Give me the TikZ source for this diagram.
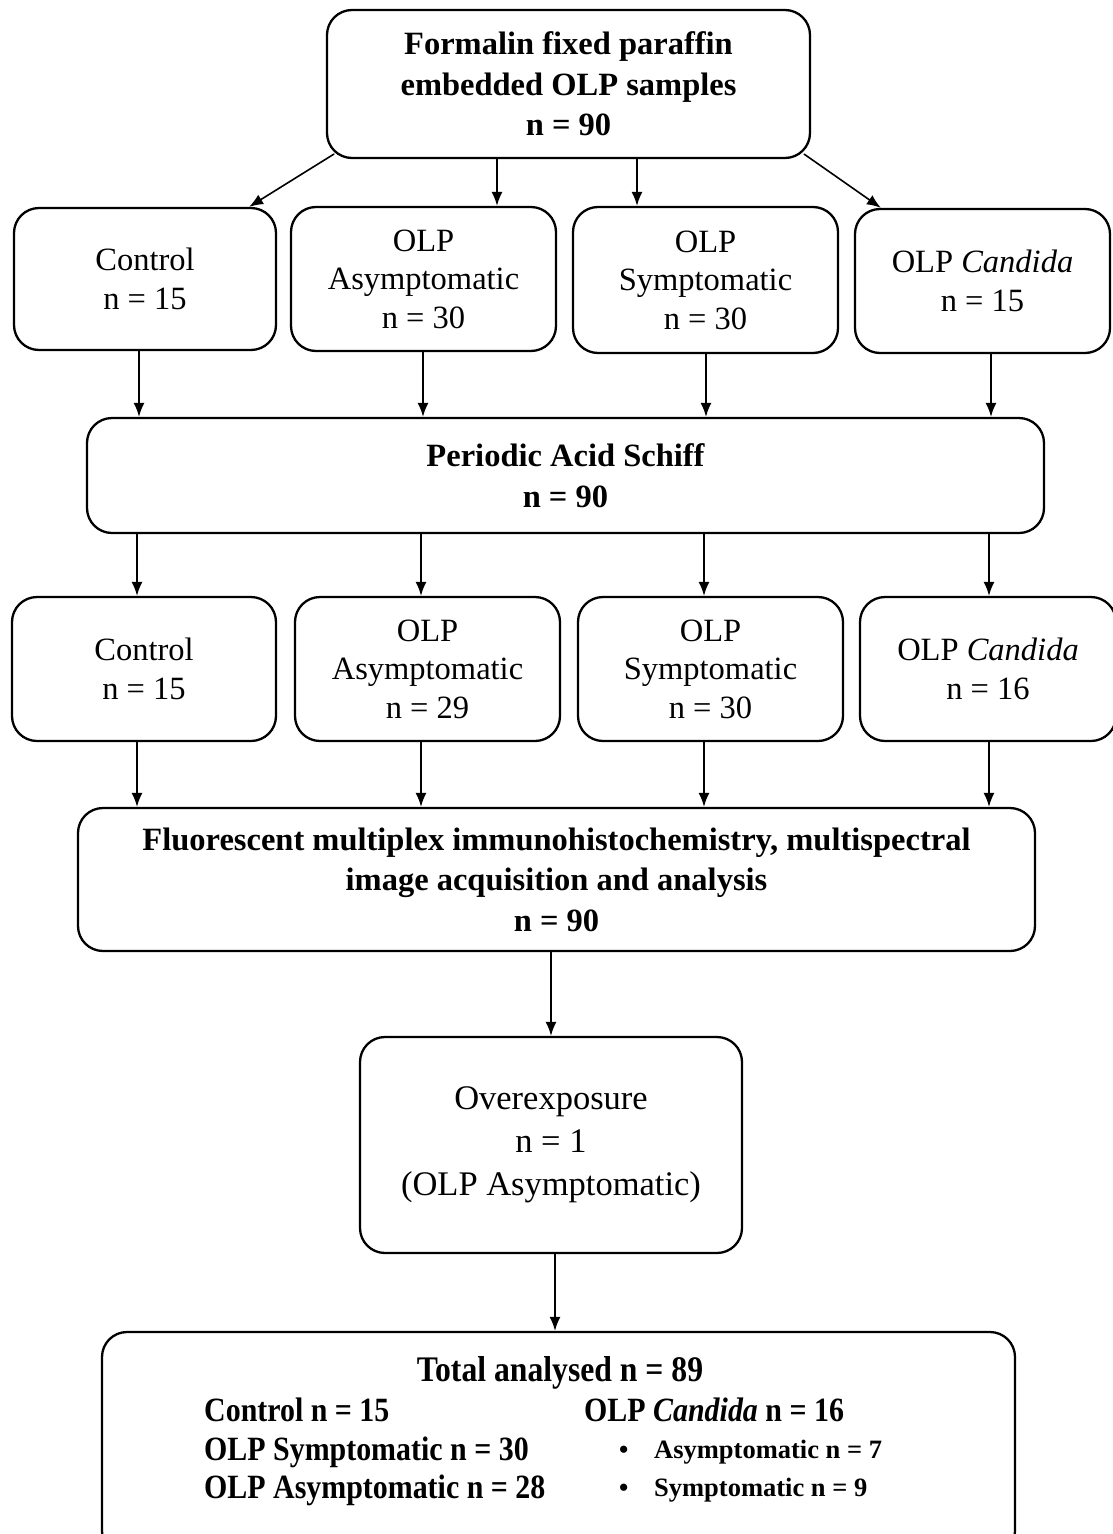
\documentclass[tikz,border=0pt]{standalone}
\usepackage{fontspec}
\setmainfont{Liberation Serif}
\newfontfamily\condfont[FakeStretch=0.88]{Liberation Serif}
\usetikzlibrary{arrows.meta,calc}

\begin{document}
\begin{tikzpicture}[x=1pt, y=-1pt, line join=round, line cap=round, >={Latex[length=14pt,width=11pt]},
	box/.style={draw, rounded corners=25pt, line width=2.3pt, align=center, inner sep=0pt,
		font=\fontsize{32.5}{38.5}\selectfont},
	boldtxt/.style={font=\fontsize{32.5}{40.5}\selectfont\bfseries},
	link/.style={->, line width=1.6pt},
	sumtxt/.style={anchor=base west, inner sep=0pt, font=\condfont\bfseries\fontsize{34}{39}\selectfont}]
	\clip (0,0) rectangle (1113,1534);
	% samples
	\node[box, boldtxt, minimum width=483pt, minimum height=148pt] (src) at (568.5,84) {Formalin fixed paraffin\\embedded OLP samples\\n = 90};
	% groups before staining
	\node[box, minimum width=262pt, minimum height=142pt] (ctrlA) at (145,279) {Control\\n = 15};
	\node[box, minimum width=265pt, minimum height=144pt] (asymA) at (423.5,279) {OLP\\Asymptomatic\\n = 30};
	\node[box, minimum width=265pt, minimum height=146pt] (sympA) at (705.5,280) {OLP\\Symptomatic\\n = 30};
	\node[box, minimum width=255pt, minimum height=144pt] (candA) at (982.5,281) {OLP \textit{Candida}\\n = 15};
	\node[box, boldtxt, minimum width=957pt, minimum height=115pt] (pas) at (565.5,475.5) {Periodic Acid Schiff\\n = 90};
	% groups after staining
	\begin{scope}[every node/.append style={font=\fontsize{32.5}{41}\selectfont}]
		\node[box, minimum width=264pt, minimum height=144pt] (ctrlB) at (144,669) {Control\\n = 15};
		\node[box, minimum width=265pt, minimum height=144pt] (asymB) at (427.5,669) {OLP\\Asymptomatic\\n = 29};
		\node[box, minimum width=265pt, minimum height=144pt] (sympB) at (710.5,669) {OLP\\Symptomatic\\n = 30};
		\node[box, minimum width=256pt, minimum height=144pt] (candB) at (988,669) {OLP \textit{Candida}\\n = 16};
	\end{scope}
	\node[box, boldtxt, minimum width=957pt, minimum height=143pt] (fmi) at (556.5,879.5) {Fluorescent multiplex immunohistochemistry, multispectral\\image acquisition and analysis\\n = 90};
	\node[box, font=\fontsize{34.5}{43}\selectfont, minimum width=382pt, minimum height=216pt] (over) at (551,1145) {Overexposure\\n = 1\\(OLP Asymptomatic)};
	\node[box, minimum width=913pt, minimum height=224pt] (total) at (558.5,1444) {};
	% summary text
	\node[anchor=base, inner sep=0pt, font=\condfont\bfseries\fontsize{36}{39}\selectfont] (tot) at (560,1381) {Total analysed n = 89};
	\node[sumtxt] (ctrlC) at (204,1421) {Control n = 15};
	\node[sumtxt] (sympC) at (204,1460) {OLP Symptomatic n = 30};
	\node[sumtxt] (asymC) at (204,1498) {OLP Asymptomatic n = 28};
	\node[sumtxt] (candC) at (584,1421) {OLP \textit{Candida} n = 16};
	\node[sumtxt, font=\bfseries\fontsize{26.5}{39}\selectfont] (candAs) at (619,1458) {\makebox[35pt][l]{\textbullet}Asymptomatic n = 7};
	\node[sumtxt, font=\bfseries\fontsize{26.5}{39}\selectfont] (candSy) at (619,1496) {\makebox[35pt][l]{\textbullet}Symptomatic n = 9};
	% arrows
	\draw[link] ($(src.south west)+(8,-5)$) -- ($(ctrlA.north east)+(-28,0)$);
	\draw[link] ([xshift=-71.5pt]src.south) -- ([xshift=-71.5pt]src.south |- asymA.north);
	\draw[link] ([xshift=68.5pt]src.south) -- ([xshift=68.5pt]src.south |- sympA.north);
	\draw[link] ($(src.south east)+(-7,-5)$) -- ($(candA.north west)+(27,0)$);
	\foreach \a/\b/\da/\db in {ctrlA/ctrlB/-6/-7, asymA/asymB/-0.5/-6.5, sympA/sympB/0.5/-6.5, candA/candB/8.5/1}{
		\draw[link] ([xshift=\da pt]\a.south) -- ([xshift=\da pt]\a.south |- pas.north);
		\draw[link] ([xshift=\db pt]\b.north |- pas.south) -- ([xshift=\db pt]\b.north);
		\draw[link] ([xshift=\db pt]\b.south) -- ([xshift=\db pt]\b.south |- fmi.north);
	}
	\draw[link] (fmi.south -| over.north) -- (over.north);
	\draw[link] ([xshift=4pt]over.south) -- ([xshift=4pt]over.south |- total.north);
\end{tikzpicture}
\end{document}
